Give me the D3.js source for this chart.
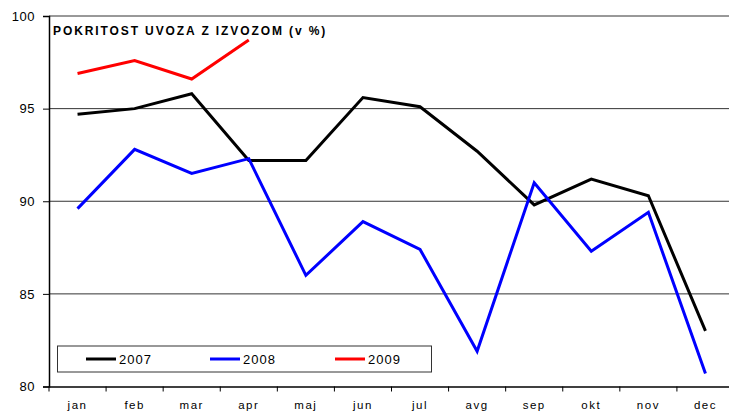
<!DOCTYPE html>
<html><head><meta charset="utf-8">
<script src="https://cdn.jsdelivr.net/npm/d3@7"></script>
<style>body{margin:0;background:#fff}svg{display:block;font-family:Arial,"Liberation Sans",sans-serif}</style>
</head><body><svg id="c" width="729" height="412"></svg>
<script>
const months = ["jan","feb","mar","apr","maj","jun","jul","avg","sep","okt","nov","dec"];
const yTicks = [80,85,90,95,100];
const s2007 = [94.7,95.0,95.8,92.2,92.2,95.6,95.1,92.7,89.8,91.2,90.3,83.0];
const s2008 = [89.6,92.8,91.5,92.3,86.0,88.9,87.4,81.9,91.0,87.3,89.4,80.7];
const s2009 = [96.9,97.6,96.6,98.7];
const seriesNames = ["2007","2008","2009"];
const seriesColors = ["#000000","#0000ff","#ff0000"];
const title = "POKRITOST UVOZA Z IZVOZOM (v %)";

(function(){
const svg = d3.select("#c");
const mL = 49, mR = 734, mT = 16, mB = 386.5;
const x = d3.scaleBand().domain(months).range([mL, mR]);
const y = d3.scaleLinear().domain([80,100]).range([mB, mT]);

// gridlines
svg.append("g").selectAll("line").data(yTicks.filter(t=>t>80)).join("line")
  .attr("x1", mL).attr("x2", mR)
  .attr("y1", d=>y(d)).attr("y2", d=>y(d))
  .attr("stroke", "#333").attr("stroke-width", 1);

// y axis
const ya = svg.append("g").attr("transform", `translate(${mL},0)`)
  .call(d3.axisLeft(y).tickValues(yTicks).tickSize(6).tickPadding(8));
ya.select(".domain").attr("stroke","#000").attr("stroke-width",1.5);
ya.selectAll(".tick line").attr("stroke","#000");
ya.selectAll("text").attr("font-size",13).attr("fill","#000").attr("font-family","Arial, 'Liberation Sans', sans-serif").attr("letter-spacing","0.5px");

// x axis
const xa = svg.append("g").attr("transform", `translate(0,${mB})`)
  .call(d3.axisBottom(x).tickSize(0).tickPadding(14));
xa.select(".domain").attr("stroke","#000").attr("stroke-width",1.5);
xa.selectAll("text").attr("font-size",11.5).attr("fill","#000").attr("font-family","Arial, 'Liberation Sans', sans-serif").attr("letter-spacing","1.5px");
// band-edge ticks
svg.append("g").selectAll("line").data(months).join("line")
  .attr("x1", d=>x(d)).attr("x2", d=>x(d))
  .attr("y1", mB).attr("y2", mB+5)
  .attr("stroke","#000").attr("stroke-width",1);

// lines
const line = d3.line().x((d,i)=>x(months[i])+x.bandwidth()/2).y(d=>y(d));
[s2007,s2008,s2009].forEach((s,i)=>{
  svg.append("path").datum(s).attr("d", line)
    .attr("fill","none").attr("stroke", seriesColors[i]).attr("stroke-width",3)
    .attr("stroke-linejoin","miter");
});

// title
svg.append("text").attr("x",53).attr("y",35).text(title)
  .attr("font-size",12).attr("font-weight","bold").attr("letter-spacing","1.9px").attr("fill","#000");

// legend
const lg = svg.append("g");
lg.append("rect").attr("x",57.5).attr("y",346).attr("width",374).attr("height",26)
  .attr("fill","#fff").attr("stroke","#333").attr("stroke-width",1);
const lx = [86,210,335];
seriesNames.forEach((n,i)=>{
  lg.append("line").attr("x1",lx[i]).attr("x2",lx[i]+30).attr("y1",359).attr("y2",359)
    .attr("stroke",seriesColors[i]).attr("stroke-width",3);
  lg.append("text").attr("x",lx[i]+33).attr("y",364).text(n)
    .attr("font-size",13).attr("letter-spacing","1px").attr("fill","#000");
});
})();
</script></body></html>
